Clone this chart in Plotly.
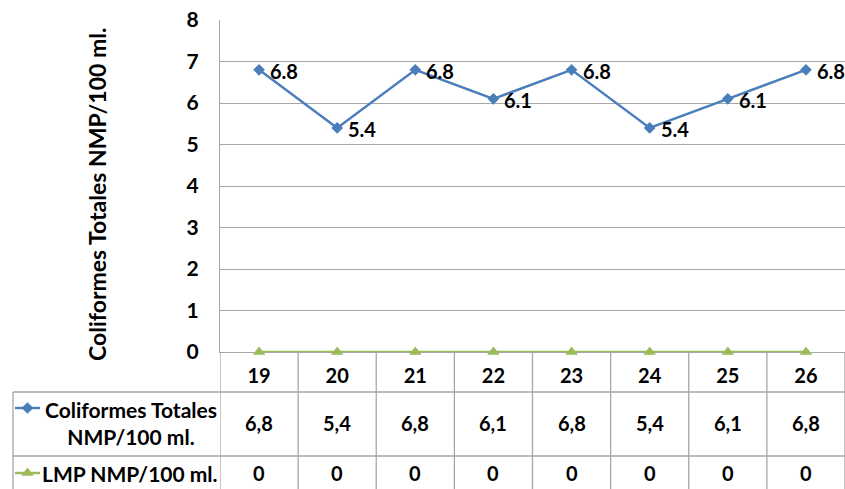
import plotly.graph_objects as go

# Sampling days and measured values
days = [19, 20, 21, 22, 23, 24, 25, 26]
coliformes = [6.8, 5.4, 6.8, 6.1, 6.8, 5.4, 6.1, 6.8]
lmp = [0, 0, 0, 0, 0, 0, 0, 0]

series_names = ["Coliformes Totales<br>NMP/100 ml.", "LMP NMP/100 ml."]
y_title = "Coliformes Totales NMP/100 ml."
y_ticks = [0, 1, 2, 3, 4, 5, 6, 7, 8]

W, H = 845, 489
FONT = "Lato"
BLUE = "#4A7EBB"
GREEN = "#9BBB59"
GRID = "#A6A6A6"

# pixel layout of the plot area and the data table below it
plot_left, plot_top, plot_bottom = 220, 20, 352
row1_top, row2_top = 392, 456
table_left = 13
row1_mid, row2_mid = 423, 473


def fx(px):
    return px / W


def fy(py):
    return 1 - py / H


def fmt(v):
    return f"{v:g}".replace(".", ",")


fig = go.Figure()

fig.add_trace(go.Scatter(
    x=days, y=coliformes, mode="lines+markers",
    line=dict(color=BLUE, width=2.5),
    marker=dict(symbol="diamond", size=9, color=BLUE),
    cliponaxis=False, showlegend=False,
))
fig.add_trace(go.Scatter(
    x=days, y=lmp, mode="lines+markers",
    line=dict(color=GREEN, width=2.4),
    marker=dict(symbol="triangle-up", size=11, color=GREEN),
    cliponaxis=False, showlegend=False,
))

# legend keys inside the table's first column (pixel overlay axes)
key_rows = [(408, BLUE, "diamond", 9), (473, GREEN, "triangle-up", 11)]
for ky, col, sym, sz in key_rows:
    fig.add_trace(go.Scatter(
        x=[15, 40], y=[ky, ky], mode="lines",
        line=dict(color=col, width=2.4), xaxis="x2", yaxis="y2",
        hoverinfo="skip", showlegend=False,
    ))
    fig.add_trace(go.Scatter(
        x=[27.5], y=[ky], mode="markers",
        marker=dict(symbol=sym, size=sz, color=col), xaxis="x2", yaxis="y2",
        hoverinfo="skip", showlegend=False,
    ))

shapes = []
# table grid: horizontal row separators
for yy in (row1_top, row2_top):
    shapes.append(dict(type="line", xref="x2", yref="y2", x0=table_left, x1=W,
                       y0=yy, y1=yy, line=dict(color=GRID, width=1.3), layer="below"))
shapes.append(dict(type="line", xref="x2", yref="y2", x0=table_left, x1=table_left,
                   y0=row1_top, y1=H, line=dict(color=GRID, width=1.3), layer="below"))
# column separators at category boundaries
bounds = [d - 0.5 for d in days] + [days[-1] + 0.5]
for b in bounds:
    shapes.append(dict(type="line", xref="x", yref="y2", x0=b, x1=b,
                       y0=plot_bottom, y1=H, line=dict(color=GRID, width=1.3), layer="below"))

annotations = []
label_font = dict(family=FONT, size=20, color="black", weight="bold")
cell_font = dict(family=FONT, size=20, color="black", weight="bold")
# point labels to the right of each marker
for d, c in zip(days, coliformes):
    annotations.append(dict(x=d, y=c, xref="x", yref="y", text=f"{c:.1f}",
                            xanchor="left", yanchor="middle", xshift=9, yshift=-1,
                            showarrow=False, font=label_font))
# data table cells
for d, c, l in zip(days, coliformes, lmp):
    annotations.append(dict(x=d, y=row1_mid, xref="x", yref="y2", text=fmt(c),
                            showarrow=False, font=cell_font))
    annotations.append(dict(x=d, y=row2_mid, xref="x", yref="y2", text=fmt(l),
                            showarrow=False, font=cell_font))
annotations.append(dict(x=131, y=row1_mid, xref="x2", yref="y2", text=series_names[0],
                        showarrow=False, font=dict(cell_font, size=21), align="center"))
annotations.append(dict(x=130, y=row2_mid, xref="x2", yref="y2", text=series_names[1],
                        showarrow=False, font=dict(cell_font, size=21), align="center"))
annotations.append(dict(x=97, y=195, xref="x2", yref="y2", text=y_title, textangle=-90,
                        showarrow=False, font=dict(family=FONT, size=23, color="black", weight="bold")))

fig.update_layout(
    width=W, height=H,
    margin=dict(l=0, r=0, t=0, b=0, autoexpand=False),
    paper_bgcolor="white", plot_bgcolor="rgba(0,0,0,0)",
    font=dict(family=FONT, color="black"),
    xaxis=dict(
        domain=[fx(plot_left), 1], range=[days[0] - 0.5, days[-1] + 0.5],
        tickmode="array", tickvals=days, ticktext=[str(d) for d in days],
        showgrid=False, zeroline=False, showline=True, linecolor=GRID, linewidth=1.3,
        ticks="outside", ticklen=6, tickcolor="rgba(0,0,0,0)",
        tickfont=dict(family=FONT, size=20, color="black", weight="bold"),
        anchor="y", automargin=False, layer="below traces",
    ),
    yaxis=dict(
        domain=[fy(plot_bottom), fy(plot_top)], range=[0, 8],
        tickmode="array", tickvals=y_ticks,
        showgrid=True, gridcolor=GRID, gridwidth=1.3, zeroline=False,
        showline=True, linecolor=GRID, linewidth=1.3,
        ticks="outside", ticklen=16, tickcolor="rgba(0,0,0,0)",
        tickfont=dict(family=FONT, size=21, color="black", weight="bold"),
        anchor="x", automargin=False, layer="below traces",
    ),
    xaxis2=dict(domain=[0, 1], range=[0, W], visible=False, anchor="y2", automargin=False),
    yaxis2=dict(domain=[0, 1], range=[H, 0], visible=False, anchor="x2", automargin=False),
    shapes=shapes,
    annotations=annotations,
)

fig.write_html("out.html")
